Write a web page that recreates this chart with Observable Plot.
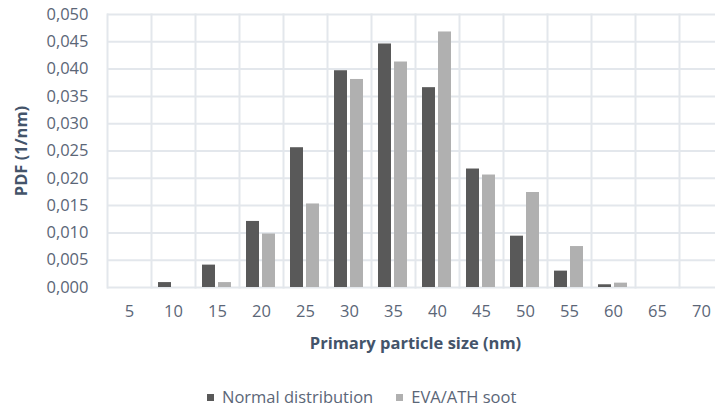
<!DOCTYPE html>
<html>
<head>
<meta charset="utf-8">
<script src="https://cdn.jsdelivr.net/npm/d3@7"></script>
<script src="https://cdn.jsdelivr.net/npm/@observablehq/plot@0.6"></script>
<style>
  html, body { margin: 0; padding: 0; background: #fff; }
  #wrap { position: relative; width: 715px; height: 408px; overflow: hidden; font-family: "Open Sans", Lato, sans-serif; }
  g[aria-label="y-axis label"], g[aria-label="fx-axis label"] { font-weight: bold; fill: #44546a; }
  #legend { position: absolute; left: 207px; top: 387px; display: flex; align-items: center; font-size: 16.5px; color: #5b6677; line-height: 20px; white-space: nowrap; }
  .sw { width: 7px; height: 7px; display: inline-block; margin-right: 8px; }
  .item { display: flex; align-items: center; }
</style>
</head>
<body>
<div id="wrap">
  <div id="chart"></div>
  <div id="legend"></div>
</div>
<script>
const sizes = [5, 10, 15, 20, 25, 30, 35, 40, 45, 50, 55, 60, 65, 70];
const seriesNames = ["Normal distribution", "EVA/ATH soot"];
const normalValues = [0, 0.0009, 0.0041, 0.0121, 0.0256, 0.0397, 0.0446, 0.0366, 0.0217, 0.0094, 0.0030, 0.0005, 0, 0];
const evaValues = [0, 0, 0.0009, 0.0098, 0.0153, 0.0381, 0.0413, 0.0468, 0.0206, 0.0174, 0.0075, 0.0008, 0, 0];
const yTicks = [0, 0.005, 0.01, 0.015, 0.02, 0.025, 0.03, 0.035, 0.04, 0.045, 0.05];
const colors = ["#595959", "#b0b0b0"];

const data = sizes.flatMap((s, i) => [
  {size: s, series: seriesNames[0], value: normalValues[i]},
  {size: s, series: seriesNames[1], value: evaValues[i]}
]);

const fmt = d => d3.format(".3f")(d).replace(".", ",");
const gridColor = "#e3e7ec";

const chart = Plot.plot({
  width: 715,
  height: 355,
  marginLeft: 104,
  marginRight: -10.4,
  marginTop: 14,
  marginBottom: 68,
  style: {fontFamily: "'Open Sans', Lato, sans-serif", fontSize: "16.5px", color: "#5b6677", background: "white", overflow: "visible"},
  fx: {domain: sizes, padding: 0},
  x: {domain: seriesNames, paddingInner: 0.18, paddingOuter: 0.43, axis: null},
  y: {domain: [0, 0.05]},
  color: {domain: seriesNames, range: colors},
  marks: [
    Plot.gridY(yTicks, {stroke: gridColor, strokeWidth: 2, strokeOpacity: 1}),
    Plot.frame({anchor: "left", stroke: gridColor, strokeWidth: 2, strokeOpacity: 1}),
    Plot.barY(data, {fx: "size", x: "series", y: "value", fill: "series"}),
    Plot.axisY(yTicks, {tickSize: 0, tickPadding: 19, tickFormat: fmt, label: "PDF (1/nm)", labelAnchor: "center", labelOffset: 92, labelArrow: false}),
    Plot.axisFx({anchor: "bottom", tickSize: 0, tickPadding: 18, label: "Primary particle size (nm)", labelAnchor: "center", labelOffset: 61, labelArrow: false})
  ]
});
document.getElementById("chart").appendChild(chart);

const legend = document.getElementById("legend");
seriesNames.forEach((name, i) => {
  const item = document.createElement("div");
  item.className = "item";
  if (i > 0) item.style.marginLeft = "23px";
  const sw = document.createElement("span");
  sw.className = "sw";
  sw.style.background = colors[i];
  item.appendChild(sw);
  const t = document.createElement("span");
  t.textContent = name;
  item.appendChild(t);
  legend.appendChild(item);
});
</script>
</body>
</html>
